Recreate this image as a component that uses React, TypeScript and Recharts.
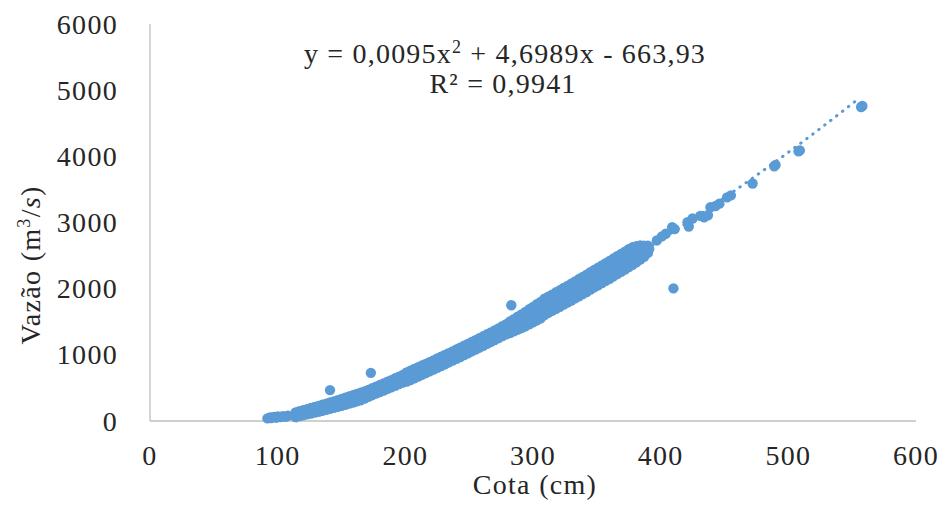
import React from "react";
import { ComposedChart, Scatter, Line, XAxis, YAxis } from "recharts";

// Observed points: cota (cm) x vazão (m3/s)
const lowCluster: [number, number][] = [
  [92, 40], [94, 55], [95, 45], [97, 62], [99, 50], [100, 68], [102, 58], [104, 72], [106, 65], [108, 80],
];

// Dense band, rows of [cota, lower, middle, upper] vazão
const bandLow: number[][] = [
  [114, 60, 95, 130], [117, 75, 112, 150], [120, 88, 126, 165], [123, 100, 140, 180], [126, 112, 154, 196],
  [129, 126, 169, 212], [132, 140, 184, 228], [135, 155, 200, 245], [138, 170, 216, 262], [141, 185, 232, 280],
  [144, 200, 248, 297], [147, 215, 265, 315], [150, 230, 282, 333], [153, 246, 298, 351], [156, 262, 316, 370],
  [159, 279, 334, 389], [162, 296, 352, 408], [165, 314, 371, 428], [168, 340, 394, 448], [171, 365, 417, 470],
  [174, 390, 442, 494], [177, 413, 465, 518], [180, 437, 490, 543], [183, 460, 514, 568], [186, 485, 539, 593],
  [189, 508, 563, 618], [192, 533, 589, 645], [195, 557, 614, 670], [198, 582, 639, 696],
];

const bandMid: number[][] = [
  [201, 595, 665, 735], [204, 620, 690, 760], [207, 645, 716, 786], [210, 672, 742, 812], [213, 698, 768, 838],
  [216, 724, 794, 864], [219, 750, 821, 890], [222, 777, 847, 917], [225, 804, 874, 944], [228, 830, 901, 971],
  [231, 858, 928, 998], [234, 885, 956, 1026], [237, 912, 983, 1053], [240, 940, 1011, 1081], [243, 968, 1039, 1109],
  [246, 996, 1067, 1137], [249, 1024, 1095, 1165], [252, 1052, 1123, 1194], [255, 1080, 1152, 1222], [258, 1108, 1181, 1251],
  [261, 1137, 1210, 1280], [264, 1166, 1239, 1310], [267, 1195, 1268, 1340], [270, 1224, 1297, 1370], [273, 1252, 1327, 1400],
  [276, 1282, 1357, 1432], [279, 1310, 1387, 1462], [282, 1330, 1417, 1505], [285, 1355, 1447, 1540], [288, 1380, 1477, 1575],
  [291, 1405, 1508, 1612], [294, 1430, 1539, 1650], [297, 1460, 1570, 1688], [300, 1490, 1601, 1725],
];

const bandHigh: number[][] = [
  [303, 1520, 1660, 1765], [306, 1550, 1692, 1800], [309, 1600, 1724, 1848], [312, 1635, 1757, 1880], [315, 1665, 1788, 1910],
  [318, 1695, 1820, 1945], [321, 1725, 1850, 1975], [324, 1760, 1885, 2010], [327, 1790, 1915, 2040], [330, 1820, 1948, 2075],
  [333, 1855, 1982, 2110], [336, 1885, 2015, 2145], [339, 1920, 2050, 2178], [342, 1950, 2082, 2212], [345, 1985, 2116, 2248],
  [348, 2020, 2150, 2282], [351, 2050, 2184, 2316], [354, 2085, 2218, 2352], [357, 2120, 2252, 2386], [360, 2150, 2286, 2420],
  [363, 2185, 2320, 2455], [366, 2220, 2355, 2490], [369, 2255, 2390, 2525], [372, 2290, 2425, 2560], [375, 2325, 2460, 2595],
  [378, 2360, 2495, 2625], [381, 2400, 2520, 2640], [384, 2440, 2550, 2655], [387, 2480, 2570, 2650], [390, 2540, 2600, 2650],
];

const sparseTop: [number, number][] = [
  [397, 2729], [401, 2790], [404, 2830], [409, 2930], [411, 2900], [421, 3005], [422, 2940], [425, 3060], [431, 3100],
  [434, 3080], [437, 3110], [439, 3230], [443, 3250], [446, 3285], [452, 3380], [455, 3410], [472, 3590], [489, 3850],
  [490, 3870], [508, 4075], [509, 4090], [557, 4745], [558, 4760],
];

const outliers: [number, number][] = [
  [141, 467], [173, 728], [283, 1749], [410, 2005],
];

// Polynomial trendline (y = 0,0095x² + 4,6989x - 663,93)
const trendX = [115, 150, 175, 200, 225, 250, 275, 300, 325, 350, 375, 400, 425, 450, 475, 500, 525, 552];
const trendY = [2, 255, 449, 656, 874, 1105, 1347, 1601, 1867, 2144, 2434, 2736, 3049, 3374, 3712, 4061, 4421, 4825];

const xTicks = [0, 100, 200, 300, 400, 500, 600];
const yTicks = [0, 1000, 2000, 3000, 4000, 5000, 6000];

const bandRows = [...bandLow, ...bandMid, ...bandHigh];
const bandPoints = bandRows.flatMap(([x, lo, mid, hi]) => [
  { x, y: lo },
  { x: x + 1, y: mid },
  { x, y: hi },
]);
const observed = [
  ...lowCluster.map(([x, y]) => ({ x, y })),
  ...bandPoints,
  ...sparseTop.map(([x, y]) => ({ x, y })),
  ...outliers.map(([x, y]) => ({ x, y })),
];
const trend = trendX.map((x, i) => ({ x, y: trendY[i] }));

const BLUE = "#5b9bd5";
const TEXT = "#262626";
const FONT = "Liberation Serif";
const FS = 28;
const LS = 1.3;

const XTick = (props: any) => (
  <text x={props.x} y={props.y + 42} textAnchor="middle" style={{ fontFamily: FONT }} fontSize={FS} letterSpacing={LS} fill={TEXT}>
    {props.payload.value}
  </text>
);

const YTick = (props: any) => (
  <text x={props.x - 30} y={props.y + 9.5} textAnchor="end" style={{ fontFamily: FONT }} fontSize={FS} letterSpacing={LS} fill={TEXT}>
    {props.payload.value}
  </text>
);

const Dot = (props: any) => <circle cx={props.cx} cy={props.cy} r={5.2} fill={BLUE} />;

export default function App() {
  return (
    <div style={{ position: "absolute", left: 0, top: 0, width: 948, height: 519, background: "#fff" }}>
      <ComposedChart width={948} height={519} margin={{ top: 24, right: 32, bottom: 0, left: 0 }}>
        <XAxis
          type="number"
          dataKey="x"
          domain={[0, 600]}
          ticks={xTicks}
          interval={0}
          height={98}
          tickLine={false}
          tickSize={0}
          axisLine={{ stroke: "#bfbfbf", strokeWidth: 1.3 }}
          tick={<XTick />}
        />
        <YAxis
          type="number"
          dataKey="y"
          domain={[0, 6000]}
          ticks={yTicks}
          interval={0}
          width={150}
          tickLine={false}
          tickSize={0}
          axisLine={{ stroke: "#bfbfbf", strokeWidth: 1.3 }}
          tick={<YTick />}
        />
        <Scatter data={observed} dataKey="y" fill={BLUE} shape={<Dot />} isAnimationActive={false} />
        <Line
          data={trend}
          dataKey="y"
          type="monotone"
          stroke={BLUE}
          strokeWidth={3}
          strokeDasharray="0.5 7"
          strokeLinecap="round"
          dot={false}
          activeDot={false}
          isAnimationActive={false}
        />
      </ComposedChart>
      <svg width={948} height={519} style={{ position: "absolute", left: 0, top: 0, pointerEvents: "none", fontFamily: FONT }}>
        <text x={505} y={63} textAnchor="middle" fontSize={FS} letterSpacing={1.2} fill={TEXT}>
          y = 0,0095x<tspan dy={-10} fontSize={18}>2</tspan>
          <tspan dy={10}> + 4,6989x - 663,93</tspan>
        </text>
        <text x={503} y={93} textAnchor="middle" fontSize={FS} letterSpacing={1.2} fill={TEXT}>
          R² = 0,9941
        </text>
        <text x={535} y={494} textAnchor="middle" fontSize={FS} letterSpacing={LS} fill={TEXT}>
          Cota (cm)
        </text>
        <text transform="translate(40,265) rotate(-90)" textAnchor="middle" fontSize={FS} letterSpacing={LS} fill={TEXT}>
          Vazão  (m<tspan dy={-10} fontSize={18}>3</tspan>
          <tspan dy={10}>/</tspan>
          <tspan fontStyle="italic">s</tspan>)
        </text>
      </svg>
    </div>
  );
}
